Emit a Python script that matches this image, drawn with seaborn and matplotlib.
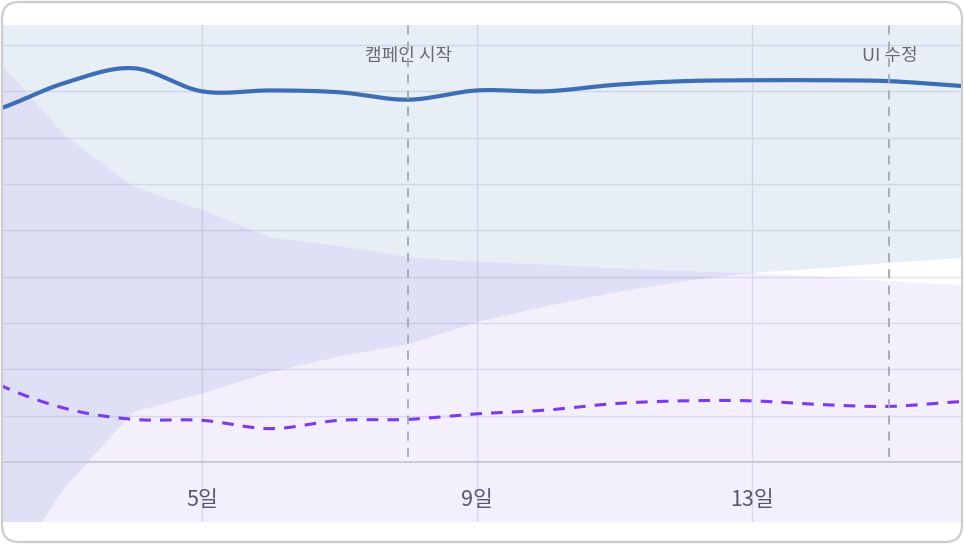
import numpy as np
import pandas as pd
import seaborn as sns
import matplotlib.pyplot as plt
from matplotlib.patches import FancyBboxPatch

# Daily data (values in %)
days = list(range(1, 18))
control_rate = [3.64, 3.80, 4.09, 4.25, 4.00, 4.01, 3.99, 3.91, 4.01, 4.00,
                4.07, 4.11, 4.12, 4.12, 4.11, 4.06, 4.01]
control_low = [-3.11, -1.38, -0.28, 0.54, 0.74, 0.97, 1.14, 1.27, 1.51, 1.68,
               1.83, 1.95, 2.04, 2.09, 2.15, 2.20, 2.24]
variant_rate = [1.26, 0.85, 0.58, 0.46, 0.45, 0.36, 0.45, 0.46, 0.52, 0.56,
                0.63, 0.66, 0.66, 0.62, 0.60, 0.65, 0.67]
variant_high = [5.42, 4.36, 3.53, 2.97, 2.72, 2.42, 2.33, 2.21, 2.16, 2.13,
                2.09, 2.06, 2.04, 2.00, 1.95, 1.91, 1.88]

tick_days = [5, 9, 13]
tick_labels = ["5일", "9일", "13일"]
events = [(8, "캠페인 시작"), (15, "UI 수정")]

BLUE = "#3d6db5"
PURPLE = "#7c3aed"
GRID = "#e0e5ee"


def smooth(x, y, n=24):
    # cubic hermite (catmull-rom tangents) only for drawing the line shape
    x = np.asarray(x, float)
    y = np.asarray(y, float)
    m = np.gradient(y, x)
    t = np.linspace(0, 1, n, endpoint=False)
    h00 = 2 * t**3 - 3 * t**2 + 1
    h10 = t**3 - 2 * t**2 + t
    h01 = -2 * t**3 + 3 * t**2
    h11 = t**3 - t**2
    xs, ys = [], []
    for i in range(len(x) - 1):
        h = x[i + 1] - x[i]
        xs.append(x[i] + t * h)
        ys.append(h00 * y[i] + h10 * h * m[i] + h01 * y[i + 1] + h11 * h * m[i + 1])
    xs.append([x[-1]])
    ys.append([y[-1]])
    return np.concatenate(xs), np.concatenate(ys)


def main():
    sns.set_theme(style="white")
    plt.rcParams["font.family"] = ["Noto Sans CJK KR", "DejaVu Sans"]

    fig = plt.figure(figsize=(9.64, 5.44), dpi=100)
    ax = fig.add_axes([2 / 964, 22 / 544, 960 / 964, 497 / 544])
    ax.set_facecolor("white")

    y_top = 4.716
    y_bot = -0.6475

    # credible bands (clipped by the axes)
    ax.fill_between(days, control_low, y_top + 5, color=BLUE, alpha=0.115,
                    linewidth=0, zorder=1)
    ax.fill_between(days, variant_high, y_bot - 5, color=PURPLE, alpha=0.08,
                    linewidth=0, zorder=1)

    cx, cy = smooth(days, control_rate)
    vx, vy = smooth(days, variant_rate)
    sns.lineplot(x=cx, y=cy, ax=ax, color=BLUE, linewidth=3.0, zorder=4,
                 sort=False)
    sns.lineplot(x=vx, y=vy, ax=ax, color=PURPLE, linewidth=2.2, zorder=4,
                 sort=False, linestyle=(0, (3.8, 3.0)))

    for d, label in events:
        ax.vlines(d, 0.05, y_top, color="#a4a8b3", linewidth=1.3,
                  linestyles=(0, (5, 4)), zorder=5)
        ax.text(d, 4.38, label, ha="center", va="center", fontsize=13,
                color="#676b74", zorder=3)

    ax.set_xlim(2.091, 16.055)
    ax.set_ylim(y_bot, y_top)
    ax.set_yticks(np.arange(0.5, 5.0, 0.5))
    ax.set_yticklabels([])
    ax.set_xticks(tick_days)
    ax.set_xticklabels(tick_labels)
    ax.grid(True, color=GRID, linewidth=1.0)
    ax.set_axisbelow(True)

    for side in ["top", "right", "left"]:
        ax.spines[side].set_visible(False)
    ax.spines["bottom"].set_position(("data", 0))
    ax.spines["bottom"].set_color("#c6cad6")
    ax.spines["bottom"].set_linewidth(1.4)
    ax.tick_params(axis="x", length=11.5, width=1.0, color=GRID, pad=8,
                   labelsize=15.5, labelcolor="#555a64", direction="out")
    ax.tick_params(axis="y", length=0)

    card = FancyBboxPatch((0.02, 0.02), 9.60, 5.40,
                          boxstyle="round,pad=0,rounding_size=0.17",
                          transform=fig.dpi_scale_trans, facecolor="none",
                          edgecolor="#cdcdcd", linewidth=1.6, zorder=10)
    fig.patches.append(card)

    fig.savefig("out.png", dpi=100)


if __name__ == "__main__":
    main()
